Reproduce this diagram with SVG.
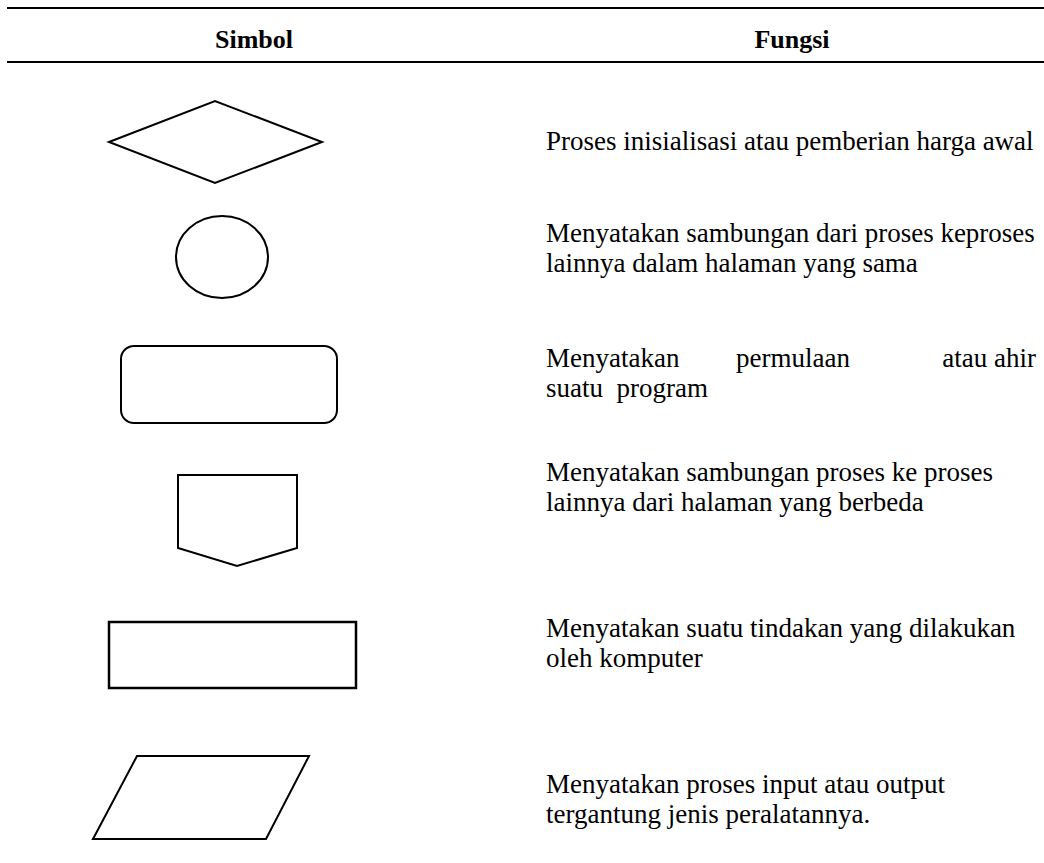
<svg xmlns="http://www.w3.org/2000/svg" width="1044" height="863" viewBox="0 0 1044 863">
<style>
.sym{fill:#fff;stroke:#000;stroke-width:2;stroke-linejoin:miter}
.rule{stroke:#000;stroke-width:2}
.hd{font-family:"Liberation Serif","Times New Roman",serif;font-size:26px;font-weight:bold;fill:#000;text-anchor:middle}
.tx{font-family:"Liberation Serif","Times New Roman",serif;font-size:27px;fill:#000}
</style>
<rect x="0" y="0" width="1044" height="863" fill="#fff"/>
<g id="table">
<line class="rule" x1="7" y1="8" x2="1044" y2="8"/>
<line class="rule" x1="7" y1="62" x2="1044" y2="62"/>
<text class="hd" x="254" y="48">Simbol</text>
<text class="hd" x="792" y="48">Fungsi</text>
</g>
<g id="decision">
<polygon class="sym" points="109,142 215,101 322,142 215,183"/>
<text class="tx" x="546" y="150">Proses inisialisasi atau pemberian harga awal</text>
</g>
<g id="connector">
<ellipse class="sym" cx="222" cy="257" rx="46" ry="41"/>
<text class="tx" x="546" y="242">Menyatakan sambungan dari proses keproses</text>
<text class="tx" x="546" y="272">lainnya dalam halaman yang sama</text>
</g>
<g id="terminator">
<rect class="sym" x="121" y="346" width="216" height="77" rx="13" ry="13"/>
<text class="tx" x="546" y="367">Menyatakan</text>
<text class="tx" x="736" y="367">permulaan</text>
<text class="tx" x="1036" y="367" text-anchor="end">atau ahir</text>
<text class="tx" x="546" y="397" xml:space="preserve">suatu  program</text>
</g>
<g id="offpage">
<polygon class="sym" points="178,475 297,475 297,548 237,566 178,548"/>
<text class="tx" x="546" y="481">Menyatakan sambungan proses ke proses</text>
<text class="tx" x="546" y="511">lainnya dari halaman yang berbeda</text>
</g>
<g id="process">
<rect class="sym" x="109" y="622" width="247" height="66" style="stroke-width:2.5"/>
<text class="tx" x="546" y="637">Menyatakan suatu tindakan yang dilakukan</text>
<text class="tx" x="546" y="667">oleh komputer</text>
</g>
<g id="io">
<polygon class="sym" points="137,756 309,756 266,839 93,839"/>
<text class="tx" x="546" y="793">Menyatakan proses input atau output</text>
<text class="tx" x="546" y="823">tergantung jenis peralatannya.</text>
</g>
</svg>
